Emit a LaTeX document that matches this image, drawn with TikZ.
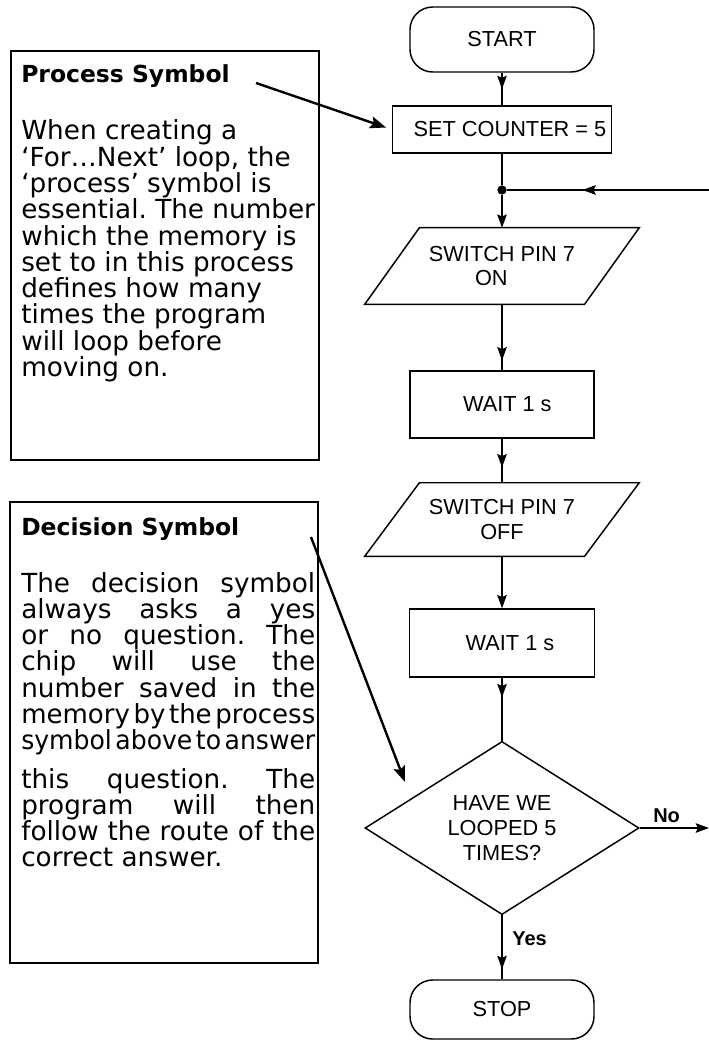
\documentclass[tikz,border=0pt]{standalone}
\usepackage{fontspec}
\usepackage{graphicx}
\setmainfont{DejaVu Sans}
\newfontfamily\flowfont{Liberation Sans}
\usetikzlibrary{arrows.meta,shapes.geometric,decorations.markings}
\frenchspacing

% text sizes
\newcommand\flowsize{\fontsize{16.3pt}{18.5pt}\selectfont}
\newcommand\lblsize{\fontsize{15pt}{18pt}\selectfont\bfseries}
\newcommand\headsize{\fontsize{17.6pt}{20pt}\selectfont\bfseries}
\newcommand\bodysize{\fontsize{19.7pt}{19.7pt}\selectfont}

% one line of a note: justified to the note width, squeezed into it, or left as it is
\newlength\jw \setlength\jw{220.5pt}
\newcommand\jline[1]{\hbox to \jw{\spaceskip=0.04em plus 1fil\relax
  \xspaceskip=\spaceskip #1}}
\newcommand\sqline[1]{\hbox{\resizebox{\jw}{\height}{\spaceskip=0.14em\relax
  \xspaceskip=\spaceskip #1}}}
\newcommand\rline[1]{\hbox{#1}}

% slanted outline round an input/output node
\newcommand\drawio[1]{%
  \draw[shapeline] ([xshift=-20.5pt]#1.south west) -- ([xshift=-20.5pt]#1.south east)
    -- ([xshift=20.5pt]#1.north east) -- ([xshift=20.5pt]#1.north west) -- cycle;}

\tikzset{
  flowtip/.tip={Stealth[length=10pt,width=7.2pt,inset=1.6pt]},
  notetip/.tip={Stealth[length=12pt,width=9pt,inset=2.2pt]},
  shapeline/.style={line width=1.1pt},
  flow/.style={line width=0.95pt},
  midarrow/.style={postaction={decorate,decoration={markings,
      mark=at position #1 with {\arrow{flowtip}}}}},
  notearrow/.style={line width=1.8pt,-{notetip}},
  terminal/.style={draw, shapeline, rounded corners=17pt, inner sep=0pt,
      minimum width=138pt, font=\flowfont\flowsize},
  procbox/.style={draw, shapeline, inner sep=0pt, font=\flowfont\flowsize},
  iobox/.style={rectangle, inner sep=0pt, minimum width=164.5pt,
      align=center, font=\flowfont\flowsize},
  decbox/.style={diamond, draw, shapeline, inner sep=0pt, align=center,
      minimum width=205.5pt, minimum height=128.25pt, font=\flowfont\flowsize},
  notebox/.style={draw, line width=1.8pt, inner sep=0pt, minimum width=231pt},
  notetext/.style={anchor=base west, inner sep=0pt},
  flowlabel/.style={anchor=base west, inner sep=0pt, font=\flowfont\lblsize}
}

\begin{document}
\begin{tikzpicture}[x=0.75pt, y=-0.75pt]
  \fill[white] (0,0) rectangle (709,1041);
  \useasboundingbox (0,0) rectangle (709,1041);

  % ---- notes on the left ----
  \node[notebox, minimum height=306.75pt] (procnote) at (165,255.5) {};
  \node[notetext, font=\headsize] (prochead) at (21,83) {Process Symbol};
  \node[notetext] (procbody) at (21,140) {\parbox[t]{\jw}{\bodysize
    \rline{When creating a}
    \rline{‘For…Next’ loop, the}
    \rline{‘process’ symbol is}
    \rline{essential. The number}
    \rline{which the memory is}
    \rline{set to in this process}
    \rline{defines how many}
    \rline{times the program}
    \rline{will loop before}
    \rline{moving on.}}};

  \node[notebox, minimum height=345.75pt] (decnote) at (164,732.5) {};
  \node[notetext, font=\headsize] (dechead) at (21,535) {Decision Symbol};
  \node[notetext] (decbodya) at (21,592) {\parbox[t]{\jw}{\bodysize
    \jline{The decision symbol}
    \jline{always asks a yes}
    \jline{or no question. The}
    \jline{chip will use the}
    \jline{number saved in the}
    \sqline{memory by the process}
    \sqline{symbol above to answer}}};
  \node[notetext] (decbodyb) at (21,788) {\parbox[t]{\jw}{\bodysize
    \jline{this question. The}
    \jline{program will then}
    \jline{follow the route of the}
    \rline{correct answer.}}};

  % ---- flowchart ----
  \node[terminal, minimum height=48.75pt] (start) at (502,39.5) {START};
  \node[procbox, minimum width=164.25pt, minimum height=35.25pt] (setc) at (502,129.5)
    {\hspace*{12pt}SET COUNTER = 5};
  \node[circle, fill, inner sep=0pt, minimum size=7pt] (jn) at (502,190) {};
  \node[iobox, minimum height=57pt] (on) at (502,266) {SWITCH PIN 7\\\hspace*{-16pt}ON};
  \drawio{on}
  \node[procbox, minimum width=138pt, minimum height=50.25pt] (wait1) at (502,404.5)
    {\hspace*{8pt}WAIT 1 s};
  \node[iobox, minimum height=54.75pt] (off) at (502,519.5) {SWITCH PIN 7\\OFF};
  \drawio{off}
  \node[procbox, minimum width=138.75pt, minimum height=51pt] (wait2) at (502,643)
    {\hspace*{12pt}WAIT 1 s};
  \node[decbox] (dec) at (502,828) {HAVE WE\\LOOPED 5\\TIMES?};
  \node[terminal, minimum height=44.25pt] (stop) at (502,1009.5) {STOP};

  \coordinate (loopin) at (711,190);
  \coordinate (noend) at (709,828);

  % connectors
  \draw[flow, midarrow=0.5] (start) -- (setc);
  \draw[flow] (setc) -- (jn);
  \draw[flow, midarrow=0.63] (loopin) -- (jn);
  \draw[flow, -{flowtip}] (jn) -- (on);
  \draw[flow, midarrow=0.85] (on) -- (wait1);
  \draw[flow, midarrow=0.65] (wait1) -- (off);
  \draw[flow, -{flowtip}] (off) -- (wait2);
  \draw[flow, midarrow=0.31] (wait2) -- (dec);
  \draw[flow, midarrow=0.84] (dec) -- (stop);
  \draw[flow, -{flowtip}] (dec.east) -- (noend);

  \node[flowlabel] (yeslbl) at (512,945) {Yes};
  \node[flowlabel] (nolbl) at (653,822) {No};

  % pointers from the notes to the symbols they describe
  \coordinate (procfrom) at (256,83);
  \draw[notearrow, shorten >=4.5pt] (procfrom) -- (setc.west);
  \coordinate (decfrom) at (311,537);
  \coordinate (decto) at (405,782);
  \draw[notearrow] (decfrom) -- (decto);
\end{tikzpicture}
\end{document}
